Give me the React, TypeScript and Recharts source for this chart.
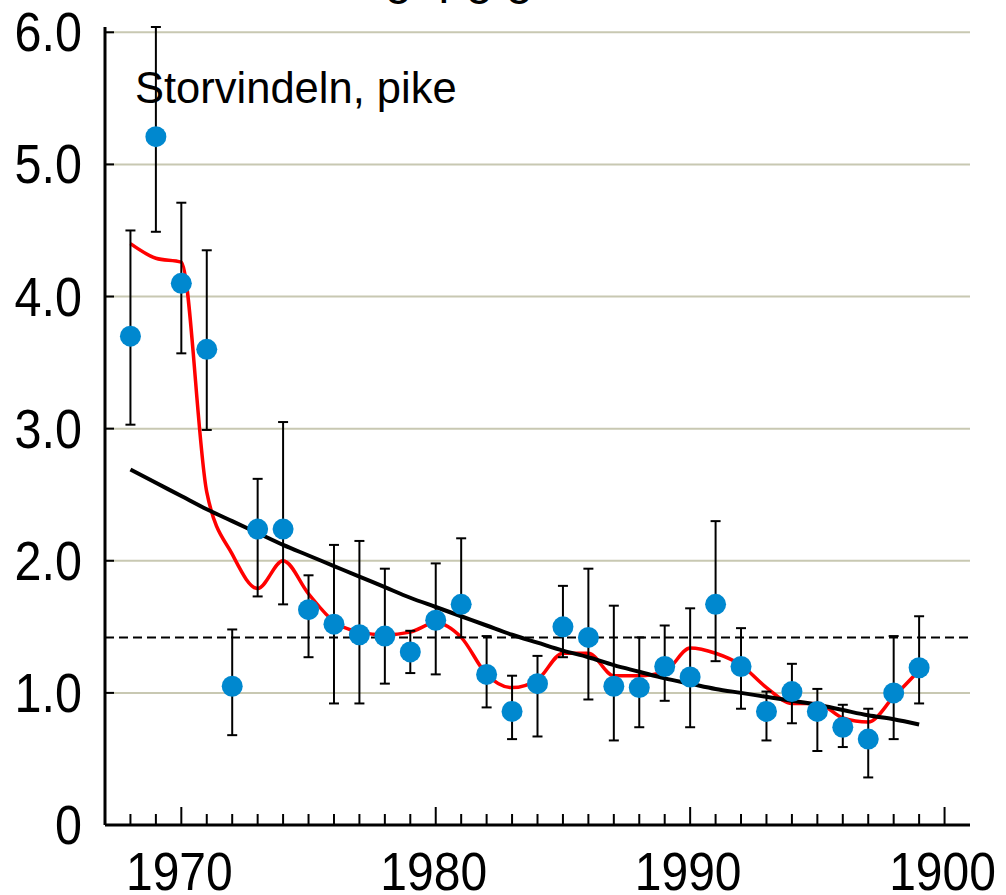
import React from 'react';
import { ComposedChart, Line, Scatter, ErrorBar, XAxis, YAxis, ReferenceLine } from 'recharts';

const FONT = '"Liberation Sans", Arial, Helvetica, sans-serif';

// yearly means with error-bar bounds
const years = [
  1968, 1969, 1970, 1971, 1972, 1973, 1974, 1975, 1976, 1977, 1978, 1979, 1980, 1981, 1982, 1983,
  1984, 1985, 1986, 1987, 1988, 1989, 1990, 1991, 1992, 1993, 1994, 1995, 1996, 1997, 1998, 1999,
];
const means = [
  3.7, 5.21, 4.1, 3.6, 1.05, 2.24, 2.24, 1.63, 1.52, 1.44, 1.43, 1.31, 1.55, 1.67, 1.14, 0.86,
  1.07, 1.5, 1.42, 1.05, 1.04, 1.2, 1.12, 1.67, 1.2, 0.86, 1.01, 0.86, 0.74, 0.65, 1.0, 1.19,
];
const lower = [
  3.03, 4.49, 3.57, 2.99, 0.68, 1.73, 1.67, 1.27, 0.92, 0.92, 1.07, 1.15, 1.14, 1.42, 0.89, 0.65,
  0.67, 1.27, 0.95, 0.64, 0.74, 0.94, 0.74, 1.24, 0.88, 0.64, 0.77, 0.56, 0.59, 0.36, 0.65, 0.92,
];
const upper = [
  4.5, 6.04, 4.71, 4.35, 1.48, 2.62, 3.05, 1.89, 2.12, 2.15, 1.94, 1.47, 1.98, 2.17, 1.43, 1.13,
  1.28, 1.81, 1.94, 1.66, 1.42, 1.51, 1.64, 2.3, 1.49, 1.01, 1.22, 1.03, 0.91, 0.88, 1.43, 1.58,
];
// red smoothed line
const smoothed = [
  4.4, 4.29, 4.26, 2.52, 2.05, 1.79, 2.0, 1.75, 1.54, 1.46, 1.44, 1.46, 1.53, 1.42, 1.14, 1.04,
  1.1, 1.3, 1.3, 1.13, 1.13, 1.16, 1.34, 1.3, 1.21, 1.04, 0.92, 0.92, 0.81, 0.78, 0.97, 1.17,
];
// black trend line
const trend = [
  2.69, 2.59, 2.49, 2.39, 2.3, 2.21, 2.12, 2.04, 1.96, 1.88, 1.8, 1.72, 1.65, 1.58, 1.51, 1.44,
  1.38, 1.32, 1.27, 1.21, 1.16, 1.11, 1.07, 1.03, 1.0, 0.97, 0.94, 0.91, 0.87, 0.83, 0.8, 0.76,
];
const meanLevel = 1.42;

const xTicks = [
  1968, 1969, 1970, 1971, 1972, 1973, 1974, 1975, 1976, 1977, 1978, 1979, 1980, 1981, 1982, 1983,
  1984, 1985, 1986, 1987, 1988, 1989, 1990, 1991, 1992, 1993, 1994, 1995, 1996, 1997, 1998, 1999, 2000,
];
const majorTicks = [1970, 1980, 1990, 2000];
const majorLabels = ['1970', '1980', '1990', '1900'];
const yTicks = [0, 1, 2, 3, 4, 5, 6];
const yLabels = ['0', '1.0', '2.0', '3.0', '4.0', '5.0', '6.0'];
const gridLevels = [1, 2, 3, 4, 5, 6];

const rows = years.map((year, i) => ({
  year,
  mean: means[i],
  err: [means[i] - lower[i], upper[i] - means[i]],
  smooth: smoothed[i],
  trend: trend[i],
}));

const XTick = ({ x, y, payload }: any) => {
  const idx = majorTicks.indexOf(payload.value);
  const major = idx >= 0;
  return (
    <g>
      <line x1={x} x2={x} y1={y} y2={y - (major ? 18 : 11)} stroke="#000" strokeWidth={2} />
      {major && (
        <text
          transform={`translate(${x - 2},${y + 65}) scale(1,1.13)`}
          textAnchor="middle"
          fontSize={48}
          fontFamily={FONT}
          fill="#000"
        >
          {majorLabels[idx]}
        </text>
      )}
    </g>
  );
};

const YTick = ({ x, y, payload }: any) => {
  const idx = yTicks.indexOf(payload.value);
  return (
    <g>
      <line x1={x} x2={x + 9} y1={y} y2={y} stroke="#000" strokeWidth={2} />
      <text
        transform={`translate(${x - 23},${y + 19}) scale(1,1.13)`}
        textAnchor="end"
        fontSize={48.5}
        fontFamily={FONT}
        fill="#000"
      >
        {yLabels[idx]}
      </text>
    </g>
  );
};

const Dot = (p: any) => <circle cx={p.cx} cy={p.cy} r={10.5} fill="#0088cf" />;

export default function App() {
  return (
    <div style={{ position: 'absolute', left: 0, top: 0, width: 1006, height: 895, background: '#fff' }}>
      <ComposedChart width={1006} height={895} data={rows} margin={{ top: 27, right: 36, bottom: 0, left: 0 }}>
        {gridLevels.map((g) => (
          <ReferenceLine key={g} y={g} stroke="#c8c8b2" strokeWidth={2} />
        ))}
        <XAxis
          dataKey="year"
          type="number"
          domain={[1967, 2001]}
          ticks={xTicks}
          interval={0}
          height={70}
          tickSize={0}
          tickMargin={0}
          tickLine={false}
          axisLine={{ stroke: '#000', strokeWidth: 3 }}
          tick={<XTick />}
        />
        <YAxis
          type="number"
          domain={[0, 6]}
          ticks={yTicks}
          interval={0}
          width={105}
          tickSize={0}
          tickMargin={0}
          tickLine={false}
          axisLine={{ stroke: '#000', strokeWidth: 3 }}
          tick={<YTick />}
        />
        <ReferenceLine y={meanLevel} stroke="#000" strokeWidth={2} strokeDasharray="9 5" />
        <Line dataKey="smooth" type="monotone" stroke="#ff0000" strokeWidth={3.5} dot={false} isAnimationActive={false} />
        <Line dataKey="trend" type="monotone" stroke="#000" strokeWidth={4} dot={false} isAnimationActive={false} />
        <Scatter dataKey="mean" shape={Dot} isAnimationActive={false}>
          <ErrorBar dataKey="err" direction="y" width={5} stroke="#000" strokeWidth={2} />
        </Scatter>
      </ComposedChart>
      <svg width={1006} height={895} style={{ position: 'absolute', left: 0, top: 0, pointerEvents: 'none' }}>
        <text x={533} y={-6} textAnchor="end" fontSize={48} fontFamily={FONT} fill="#000">
          Hg, μg/g
        </text>
        <text x={135} y={103} fontSize={43.5} fontFamily={FONT} fill="#000">
          Storvindeln, pike
        </text>
      </svg>
    </div>
  );
}
